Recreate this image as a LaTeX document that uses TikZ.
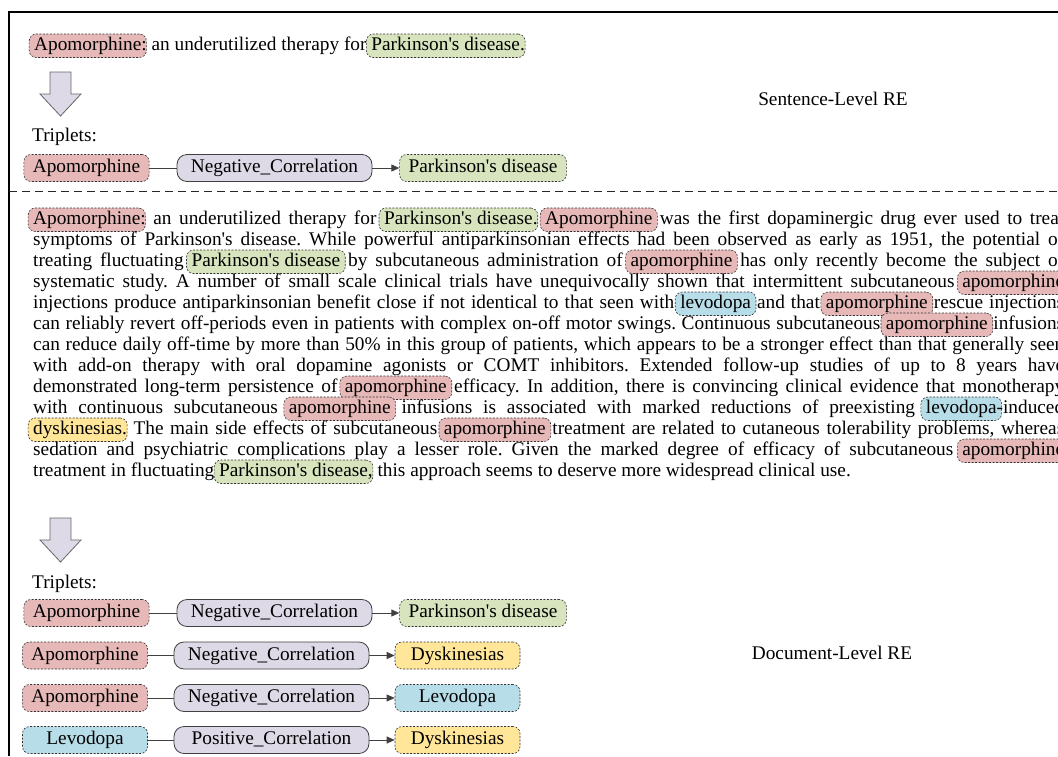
\documentclass[tikz,border=0pt]{standalone}
\usepackage{fontspec}
\setmainfont{Liberation Serif}[Ligatures=TeXOff]
\usetikzlibrary{arrows.meta}

\definecolor{entred}{RGB}{230,184,183}
\definecolor{entgreen}{RGB}{215,228,189}
\definecolor{entblue}{RGB}{183,221,232}
\definecolor{entyellow}{RGB}{255,230,153}
\definecolor{rellav}{RGB}{221,217,231}
\definecolor{edgegray}{RGB}{64,64,64}

\tikzset{
  frame/.style={draw=black, line width=1.2pt},
  sepline/.style={draw=black!85, line width=0.9pt, dash pattern=on 8pt off 5pt},
  entmark/.style={draw=black!80, line width=0.6pt, dash pattern=on 2pt off 1.5pt,
    rounded corners=7pt, inner xsep=5pt, inner ysep=0pt, text height=16pt, text depth=7.5pt},
  entnode/.style={entmark, minimum width=125pt, minimum height=27pt, inner xsep=9pt,
    text height=13.5pt, text depth=4.5pt},
  relnode/.style={draw=edgegray, fill=rellav, line width=0.8pt, rounded corners=10pt,
    minimum width=195pt, minimum height=27pt, text height=13.5pt, text depth=4.5pt},
  link/.style={draw=edgegray, line width=0.9pt},
  linkarrow/.style={link, -{Triangle[length=8pt,width=7pt]}},
  blockarrow/.style={draw=black!60, fill=rellav, line width=0.8pt},
  txtline/.style={anchor=base west, inner sep=0pt},
  reslabel/.style={anchor=base, inner sep=0pt},
}

% highlighted entity inside running text (the box does not take any room)
\newcommand{\hlent}[2]{%
  \tikz[baseline=(entword.base)]{%
    \node[entmark, fill=#1, overlay, anchor=base] (entmark) at (0,0) {\phantom{#2}};%
    \node[inner sep=0pt, anchor=base] (entword) at (0,0) {#2};}}

\frenchspacing

\begin{document}
\begin{tikzpicture}[x=1pt, y=-1pt, font=\fontsize{19.3}{21}\selectfont]
  \useasboundingbox (0,0) rectangle (1058,756);
  \clip (0,0) rectangle (1058,756);

  % frame and separator
  \draw[frame] (9,756) -- (9,12) -- (1058,12);
  \draw[sepline] (9,191) -- (1058,191);

  % down arrows
  \foreach \y in {72,518}
    \draw[blockarrow] (50,\y) -- (71,\y) -- (71,\y+22) -- (81,\y+22) -- (60.5,\y+44)
      -- (40,\y+22) -- (50,\y+22) -- cycle;

  % sentence-level RE
  \node[txtline] (sent) at (34,50) {\hlent{entred}{Apomorphine}: an underutilized therapy for \hlent{entgreen}{Parkinson's disease}.};
  \node[reslabel] (lvS) at (833,105) {Sentence-Level RE};
  \node[txtline] (tripS) at (32,141) {Triplets:};
  \node[entnode, fill=entred] (sA) at (86.5,168) {Apomorphine};
  \node[relnode] (sR) at (274.5,168) {Negative\_Correlation};
  \node[entnode, fill=entgreen] (sP) at (483,168) {Parkinson's disease};
  \draw[link] (sA) -- (sR);
  \draw[linkarrow] (sR) -- (sP);

  % document-level RE: the abstract
  \node[txtline] (p1) at (33,224) {\makebox[1031pt][s]{\hlent{entred}{Apomorphine}: an underutilized therapy for \hlent{entgreen}{Parkinson's disease}. \hlent{entred}{Apomorphine} was the first dopaminergic drug ever used to treat}};
  \node[txtline] (p2) at (33,245) {\makebox[1031pt][s]{symptoms of Parkinson's disease. While powerful antiparkinsonian effects had been observed as early as 1951, the potential of}};
  \node[txtline] (p3) at (33,266) {\makebox[1031pt][s]{treating fluctuating \hlent{entgreen}{Parkinson's disease} by subcutaneous administration of \hlent{entred}{apomorphine} has only recently become the subject of}};
  \node[txtline] (p4) at (33,287) {\makebox[1031pt][s]{systematic study. A number of small scale clinical trials have unequivocally shown that intermittent subcutaneous \hlent{entred}{apomorphine}}};
  \node[txtline] (p5) at (33,308) {\makebox[1031pt][s]{injections produce antiparkinsonian benefit close if not identical to that seen with \hlent{entblue}{levodopa} and that \hlent{entred}{apomorphine} rescue injections}};
  \node[txtline] (p6) at (33,329) {\makebox[1031pt][s]{can reliably revert off-periods even in patients with complex on-off motor swings. Continuous subcutaneous \hlent{entred}{apomorphine} infusions}};
  \node[txtline] (p7) at (33,350) {\makebox[1031pt][s]{can reduce daily off-time by more than 50\% in this group of patients, which appears to be a stronger effect than that generally seen}};
  \node[txtline] (p8) at (33,371) {\makebox[1031pt][s]{with add-on therapy with oral dopamine agonists or COMT inhibitors. Extended follow-up studies of up to 8 years have}};
  \node[txtline] (p9) at (33,392) {\makebox[1031pt][s]{demonstrated long-term persistence of \hlent{entred}{apomorphine} efficacy. In addition, there is convincing clinical evidence that monotherapy}};
  \node[txtline] (p10) at (33,413) {\makebox[1031pt][s]{with continuous subcutaneous \hlent{entred}{apomorphine} infusions is associated with marked reductions of preexisting \hlent{entblue}{levodopa}-induced}};
  \node[txtline] (p11) at (33,434) {\makebox[1031pt][s]{\hlent{entyellow}{dyskinesias}. The main side effects of subcutaneous \hlent{entred}{apomorphine} treatment are related to cutaneous tolerability problems, whereas}};
  \node[txtline] (p12) at (33,455) {\makebox[1031pt][s]{sedation and psychiatric complications play a lesser role. Given the marked degree of efficacy of subcutaneous \hlent{entred}{apomorphine}}};
  \node[txtline] (p13) at (33,476) {treatment in fluctuating \hlent{entgreen}{Parkinson's disease}, this approach seems to deserve more widespread clinical use.};

  % document-level RE: triplets
  \node[reslabel] (lvD) at (832,659) {Document-Level RE};
  \node[txtline] (tripD) at (32,588) {Triplets:};

  \node[entnode, fill=entred] (d1A) at (86.5,613) {Apomorphine};
  \node[relnode] (d1R) at (274.5,613) {Negative\_Correlation};
  \node[entnode, fill=entgreen] (d1B) at (483,613) {Parkinson's disease};
  \draw[link] (d1A) -- (d1R);
  \draw[linkarrow] (d1R) -- (d1B);

  \node[entnode, fill=entred] (d2A) at (85,655.5) {Apomorphine};
  \node[relnode] (d2R) at (271.5,655.5) {Negative\_Correlation};
  \node[entnode, fill=entyellow] (d2B) at (457.5,655.5) {Dyskinesias};
  \draw[link] (d2A) -- (d2R);
  \draw[linkarrow] (d2R) -- (d2B);

  \node[entnode, fill=entred] (d3A) at (85,698) {Apomorphine};
  \node[relnode] (d3R) at (271.5,698) {Negative\_Correlation};
  \node[entnode, fill=entblue] (d3B) at (457.5,698) {Levodopa};
  \draw[link] (d3A) -- (d3R);
  \draw[linkarrow] (d3R) -- (d3B);

  \node[entnode, fill=entblue] (d4A) at (85,740) {Levodopa};
  \node[relnode] (d4R) at (271.5,740) {Positive\_Correlation};
  \node[entnode, fill=entyellow] (d4B) at (457.5,740) {Dyskinesias};
  \draw[link] (d4A) -- (d4R);
  \draw[linkarrow] (d4R) -- (d4B);
\end{tikzpicture}
\end{document}
